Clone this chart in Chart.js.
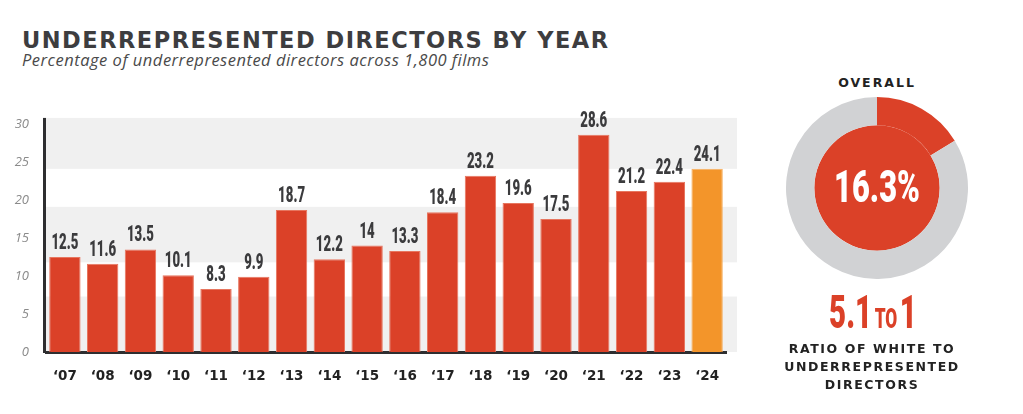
<!DOCTYPE html>
<html>
<head>
<meta charset="utf-8">
<script src="https://cdn.jsdelivr.net/npm/chart.js@4.4.1/dist/chart.umd.min.js"></script>
<style>
  body { margin: 0; background: #fff; width: 1023px; height: 414px; overflow: hidden; position: relative; }
  .abs { position: absolute; white-space: nowrap; }
  #titulo { left: 22px; top: 29px; font: bold 22.5px "DejaVu Sans"; line-height: 22px; color: #3d3d3f; letter-spacing: 1.5px; }
  #subtitulo { left: 22px; top: 51px; font: italic 16.5px "Open Sans"; line-height: 18px; color: #4a4a4a; letter-spacing: 0.5px; }
  #barras { left: 0; top: 0; width: 760px; height: 414px; }
  #dona { left: 786px; top: 97px; width: 182px; height: 182px; }
  .centro { transform: translateX(-50%); text-align: center; }
  #overall { left: 877px; top: 75px; font: bold 12.5px "DejaVu Sans"; letter-spacing: 2px; color: #222; }
  #pct { left: 877px; top: 159px; font: 900 44px Roboto; line-height: 56px; color: #fff; transform: translateX(-50%) scaleX(0.7); }
  #ratio { left: 873px; top: 287px; font: 900 46px Roboto; line-height: 50px; color: #db4128; transform: translateX(-50%) scaleX(0.64); }
  #ratio small { font-size: 27px; margin: 0 4px; }
  #pie { left: 872px; top: 340px; font: bold 12.5px "DejaVu Sans"; line-height: 18px; letter-spacing: 1.6px; color: #222; }
</style>
</head>
<body>
<div id="titulo" class="abs">UNDERREPRESENTED DIRECTORS BY YEAR</div>
<div id="subtitulo" class="abs">Percentage of underrepresented directors across 1,800 films</div>
<div id="barras" class="abs"><canvas id="graficoBarras"></canvas></div>
<div id="dona" class="abs"><canvas id="graficoDona"></canvas></div>
<div id="overall" class="abs centro">OVERALL</div>
<div id="pct" class="abs">16.3%</div>
<div id="ratio" class="abs">5.1<small>TO</small>1</div>
<div id="pie" class="abs centro">RATIO OF WHITE TO<br>UNDERREPRESENTED<br>DIRECTORS</div>

<script>
const anios = ["‘07", "‘08", "‘09", "‘10", "‘11", "‘12", "‘13", "‘14", "‘15", "‘16", "‘17", "‘18", "‘19", "‘20", "‘21", "‘22", "‘23", "‘24"];
const porcentajes = [12.5, 11.6, 13.5, 10.1, 8.3, 9.9, 18.7, 12.2, 14, 13.3, 18.4, 23.2, 19.6, 17.5, 28.6, 21.2, 22.4, 24.1];
const ticksY = [0, 5, 10, 15, 20, 25, 30];
// franjas grises del fondo, en unidades del eje y
const franjas = [[0, 7.3], [11.8, 19.1], [24.1, 30.8]];
const totalGeneral = 16.3;

const ROJO = "#db4128";
const NARANJA = "#f3952a";
const GRIS = "#d1d2d4";

const pluginFranjas = {
    id: "franjas",
    beforeDraw(chart) {
        const { ctx, chartArea, scales } = chart;
        ctx.save();
        ctx.fillStyle = "#f0f0f0";
        franjas.forEach(f => {
            const y1 = scales.y.getPixelForValue(f[1]);
            const y2 = scales.y.getPixelForValue(f[0]);
            ctx.fillRect(chartArea.left, y1, chartArea.right - chartArea.left + 11, y2 - y1);
        });
        ctx.restore();
    },
    afterDatasetsDraw(chart) {
        // eje vertical, sube hasta el borde de la franja superior
        const { ctx, chartArea, scales } = chart;
        const arriba = scales.y.getPixelForValue(franjas[franjas.length - 1][1]);
        ctx.save();
        ctx.fillStyle = "#2e2e30";
        ctx.fillRect(chartArea.left - 3, arriba, 3, chartArea.bottom - arriba + 1);
        ctx.restore();
    }
};

const pluginValores = {
    id: "valores",
    afterDatasetsDraw(chart) {
        const { ctx } = chart;
        const meta = chart.getDatasetMeta(0);
        ctx.save();
        ctx.fillStyle = "#3b3b3d";
        ctx.font = "900 22px Roboto";
        ctx.textAlign = "center";
        ctx.textBaseline = "alphabetic";
        meta.data.forEach((barra, i) => {
            ctx.save();
            ctx.translate(barra.x, barra.y - 8);
            ctx.scale(0.6, 1);
            ctx.fillText(String(porcentajes[i]), 0, 0);
            ctx.restore();
        });
        ctx.restore();
    }
};

new Chart(document.getElementById("graficoBarras"), {
    type: "bar",
    data: {
        labels: anios,
        datasets: [{
            data: porcentajes,
            backgroundColor: anios.map((a, i) => i === anios.length - 1 ? NARANJA : ROJO),
            borderColor: anios.map((a, i) => i === anios.length - 1 ? "#f6ad5c" : "#e7765f"),
            borderWidth: { top: 1, left: 1, right: 1, bottom: 0 },
            barPercentage: 0.83,
            categoryPercentage: 1
        }]
    },
    options: {
        responsive: true,
        maintainAspectRatio: false,
        animation: false,
        layout: { padding: { left: 0, right: 34, top: 124, bottom: 30 } },
        plugins: { legend: { display: false }, tooltip: { enabled: false } },
        scales: {
            x: {
                grid: { display: false },
                border: { display: true, color: "#2e2e30", width: 3 },
                ticks: { color: "#222", font: { family: "DejaVu Sans", weight: "bold", size: 13.5 }, padding: 8 },
                afterFit: s => { s.height = 32; }
            },
            y: {
                min: 0,
                max: 30,
                afterBuildTicks: s => { s.ticks = ticksY.map(v => ({ value: v })); },
                grid: { display: false },
                border: { display: false },
                ticks: { color: "#8a8a8a", font: { family: "Open Sans", style: "italic", size: 13 }, padding: 9 },
                afterFit: s => { s.width = 46; }
            }
        }
    },
    plugins: [pluginFranjas, pluginValores]
});

new Chart(document.getElementById("graficoDona"), {
    type: "doughnut",
    data: {
        datasets: [
            { data: [totalGeneral, 100 - totalGeneral], backgroundColor: [ROJO, GRIS], borderWidth: 0, weight: 28 },
            { data: [100], backgroundColor: [ROJO], borderWidth: 0, weight: 62 }
        ]
    },
    options: {
        responsive: true,
        maintainAspectRatio: false,
        animation: false,
        cutout: 0,
        layout: { padding: 0 },
        plugins: { legend: { display: false }, tooltip: { enabled: false } }
    }
});
</script>
</body>
</html>
